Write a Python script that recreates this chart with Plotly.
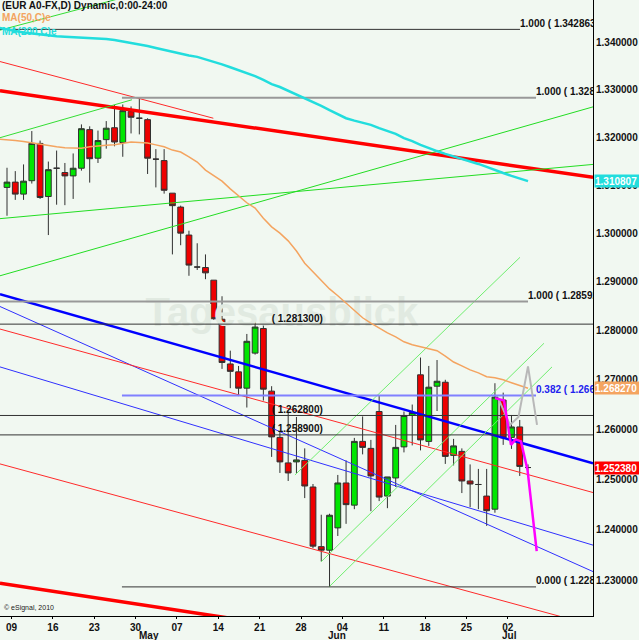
import math
import plotly.graph_objects as go

# ---------------- data ----------------
candle_idx = list(range(1, 65))
opens = [1.3095, 1.3106, 1.3081, 1.3109, 1.3187, 1.3076, 1.3135, 1.3126, 1.3119, 1.3135,
         1.3216, 1.3156, 1.3195, 1.3220, 1.3189, 1.3254, 1.3240, 1.3237, 1.3154, 1.3151,
         1.3083, 1.3054, 1.2996, 1.2930, 1.2929, 1.2903, 1.2823, 1.2732, 1.2716, 1.2683,
         1.2754, 1.2804, 1.2677, 1.2584, 1.2533, 1.2535, 1.2538, 1.2485, 1.2367, 1.2360,
         1.2404, 1.2493, 1.2449, 1.2576, 1.2562, 1.2636, 1.2467, 1.2503, 1.2565, 1.2628,
         1.2710, 1.2576, 1.2687, 1.2695, 1.2548, 1.2556, 1.2497, 1.2490, 1.2467, 1.2441,
         1.2659, 1.2584, 1.2605, 1.25238]
highs = [1.3136, 1.3129, 1.3143, 1.3213, 1.3193, 1.3149, 1.3172, 1.3146, 1.3166, 1.3227,
         1.3223, 1.3214, 1.3234, 1.3268, 1.3269, 1.3265, 1.3283, 1.3240, 1.3175, 1.3175,
         1.3083, 1.3057, 1.3005, 1.2979, 1.2956, 1.2903, 1.2870, 1.2759, 1.2728, 1.2793,
         1.2822, 1.2816, 1.2687, 1.2595, 1.2636, 1.2625, 1.2562, 1.2491, 1.2430, 1.2432,
         1.2509, 1.2538, 1.2583, 1.2626, 1.2579, 1.2669, 1.2505, 1.2609, 1.2636, 1.2650,
         1.2745, 1.2728, 1.2740, 1.2700, 1.2581, 1.2562, 1.2530, 1.2521, 1.2521, 1.2693,
         1.2674, 1.2629, 1.2619, 1.2530]
lows = [1.3036, 1.3069, 1.3069, 1.3103, 1.3071, 1.2996, 1.3059, 1.3058, 1.3071, 1.3130,
        1.3105, 1.3146, 1.3176, 1.3181, 1.3159, 1.3208, 1.3206, 1.3123, 1.3095, 1.3082,
        1.2956, 1.2975, 1.2912, 1.2924, 1.2905, 1.2822, 1.2722, 1.2683, 1.2667, 1.2644,
        1.2751, 1.2658, 1.2545, 1.2513, 1.2497, 1.2513, 1.2463, 1.2364, 1.2338, 1.2288,
        1.2388, 1.2412, 1.2441, 1.2550, 1.2437, 1.2457, 1.2443, 1.2485, 1.2554, 1.2568,
        1.2558, 1.2567, 1.2637, 1.2531, 1.2528, 1.2473, 1.2445, 1.2441, 1.2408, 1.2434,
        1.2569, 1.2561, 1.2507, 1.2518]
closes = [1.3106, 1.3081, 1.3108, 1.3187, 1.3074, 1.3132, 1.3135, 1.3119, 1.3135, 1.3218,
          1.3155, 1.3193, 1.3219, 1.3190, 1.3256, 1.3242, 1.3240, 1.3156, 1.3154, 1.3089,
          1.3057, 1.3000, 1.2934, 1.2930, 1.2918, 1.2824, 1.2735, 1.2717, 1.2683, 1.2778,
          1.2807, 1.2681, 1.2585, 1.2535, 1.2513, 1.2539, 1.2487, 1.2368, 1.2360, 1.2429,
          1.2493, 1.2450, 1.2576, 1.2564, 1.2507, 1.2465, 1.2505, 1.2564, 1.2628, 1.2634,
          1.2579, 1.2685, 1.2697, 1.2546, 1.2567, 1.2497, 1.2491, 1.2490, 1.2438, 1.2665,
          1.2583, 1.2605, 1.2526, 1.25238]

ma_idx = list(range(0, 65))
ma50 = [1.3196, 1.3195, 1.3193, 1.3191, 1.3188, 1.3186, 1.3183, 1.3180, 1.3178, 1.3177, 1.3177,
        1.3180, 1.3182, 1.3183, 1.3184, 1.3187, 1.3190, 1.3189, 1.3188, 1.3184, 1.3180,
        1.3173, 1.3169, 1.3159, 1.3148, 1.3131, 1.3119, 1.3108, 1.3092, 1.3077, 1.3063,
        1.3052, 1.3031, 1.3013, 1.3000, 1.2984, 1.2963, 1.2938, 1.2920, 1.2901, 1.2885,
        1.2871, 1.2856, 1.2842, 1.2826, 1.2815, 1.2805, 1.2795, 1.2787, 1.2777, 1.2771,
        1.2767, 1.2763, 1.2759, 1.2748, 1.2736, 1.2728, 1.2720, 1.2714, 1.2706, 1.2704,
        1.2700, 1.2694, 1.2688, 1.26827]
ma200 = [1.3432, 1.3428, 1.3425, 1.3422, 1.3420, 1.3417, 1.3415, 1.3414, 1.3413, 1.3412, 1.3411,
         1.3410, 1.3410, 1.3408, 1.3406, 1.3403, 1.3400, 1.3396, 1.3393, 1.3389, 1.3385,
         1.3380, 1.3376, 1.3373, 1.3370, 1.3365, 1.3360, 1.3354, 1.3348, 1.3342, 1.3336,
         1.3329, 1.3321, 1.3312, 1.3306, 1.3298, 1.3290, 1.3283, 1.3274, 1.3266, 1.3257,
         1.3249, 1.3240, 1.3235, 1.3230, 1.3226, 1.3219, 1.3213, 1.3207, 1.3198, 1.3192,
         1.3184, 1.3177, 1.3171, 1.3165, 1.3160, 1.3154, 1.3149, 1.3144, 1.3138, 1.3131,
         1.3125, 1.3119, 1.3114, 1.310807]

week_idx = [1, 6, 11, 16, 21, 26, 31, 36, 41, 46, 51, 56, 61]
week_labels = ["09", "16", "23", "30", "07", "14", "21", "28", "04", "11", "18", "25", "02"]
month_labels = ["May", "Jun", "Jul"]
month_pos = [18.2, 40.9, 61.75]

price_ticks = [1.23, 1.24, 1.25, 1.26, 1.27, 1.28, 1.29, 1.30, 1.31, 1.32, 1.33, 1.34]
price_tick_text = ["%.6f" % v for v in price_ticks]

# trend lines (start index, start price, end index, end price)
trend_x0 = [0.15, 0.15, 0.15, 0.15, 0.15, 0.15, 0.15, 0.15, 0.15, 0.15, 0.15, 0.15, 35.82, 38.97, 39.94]
trend_p0 = [1.3298, 1.3360, 1.3199, 1.3427, 1.3030, 1.2912, 1.2874, 1.2849, 1.2726, 1.2803, 1.2531, 1.2295, 1.2509, 1.2337, 1.2288]
trend_x1 = [71.86, 25.95, 16.11, 18.29, 71.86, 71.86, 71.86, 71.86, 71.86, 71.86, 71.86, 30.38, 63.03, 65.93, 66.90]
trend_p1 = [1.3116, 1.3240, 1.3279, 1.3512, 1.3143, 1.3264, 1.2532, 1.2318, 1.2370, 1.2474, 1.2213, 1.2221, 1.2950, 1.2774, 1.2726]
trend_style = [("#ff0000", 3.5), ("#ff2a2a", 1), ("#33dd33", 1), ("#33dd33", 1),
               ("#22dd22", 1), ("#22dd22", 1), ("#0000ff", 2.5), ("#3030ff", 1),
               ("#3030ff", 1), ("#ff2a2a", 1), ("#ff2a2a", 1), ("#ff0000", 3.5),
               ("#70ee70", 1), ("#70ee70", 1), ("#70ee70", 1)]

# fibonacci levels
fib_price = [1.342863, 1.3283, 1.28592, 1.2668, 1.2288]
fib_x0 = [0.0, 14.9, 0.0, 14.9, 14.9]
fib_x1 = [63.03, 64.97, 64.0, 64.97, 64.97]
fib_text = ["1.000 ( 1.342863)", "1.000 ( 1.328300)", "1.000 ( 1.285920)",
            "0.382 ( 1.266809)", "0.000 ( 1.228800)"]
fib_style = [("#333333", 1, "#111111"), ("#999999", 2, "#111111"), ("#999999", 2, "#111111"),
             ("#8080ff", 2, "#2222ee"), ("#333333", 1, "#111111")]

level_price = [1.2813, 1.2628, 1.2589]
level_text = ["( 1.281300)", "( 1.262800)", "( 1.258900)"]
level_text_x = 33.0

proj_mag_x = [60.01, 61.10, 61.94, 62.49, 63.15, 63.94, 65.05]
proj_mag_p = [1.2663, 1.2658, 1.2569, 1.2580, 1.2576, 1.2519, 1.2358]
proj_gray_x = [60.37, 61.82, 62.85, 64.00, 65.09]
proj_gray_p = [1.2664, 1.2609, 1.2625, 1.2727, 1.2609]

last_close = 1.252380
last_ma50 = 1.268270
last_ma200 = 1.310807

# ---------------- figure ----------------
BG = "#f1f8f1"
FONT = "Liberation Sans, Arial, sans-serif"
fig = go.Figure()

# watermark (behind everything)
fig.add_trace(go.Scatter(x=[34.25], y=[1.2829], mode="text", text=["Tagesausblick"],
                         textposition="middle center",
                         textfont=dict(family=FONT, size=40, color="#e1eae1", weight="bold"),
                         hoverinfo="skip", showlegend=False))

for x0, p0, x1, p1, (c, w) in zip(trend_x0, trend_p0, trend_x1, trend_p1, trend_style):
    fig.add_trace(go.Scatter(x=[x0, x1], y=[p0, p1], mode="lines",
                             line=dict(color=c, width=w), hoverinfo="skip", showlegend=False))

for p, x0, x1, (c, w, tc), t in zip(fib_price, fib_x0, fib_x1, fib_style, fib_text):
    fig.add_trace(go.Scatter(x=[x0, x1], y=[p, p], mode="lines",
                             line=dict(color=c, width=w), hoverinfo="skip", showlegend=False))
    fig.add_trace(go.Scatter(x=[x1], y=[p], mode="text", text=[t], textposition="top right",
                             textfont=dict(family=FONT, size=10, color=tc, weight="bold"),
                             cliponaxis=True, hoverinfo="skip", showlegend=False))

for p, t in zip(level_price, level_text):
    fig.add_trace(go.Scatter(x=[-5, 80], y=[p, p], mode="lines",
                             line=dict(color="#333333", width=1), hoverinfo="skip", showlegend=False))
    fig.add_trace(go.Scatter(x=[level_text_x], y=[p], mode="text", text=[t], textposition="top right",
                             textfont=dict(family=FONT, size=10, color="#111111", weight="bold"),
                             cliponaxis=True, hoverinfo="skip", showlegend=False))

fig.add_trace(go.Scatter(x=ma_idx, y=ma200, mode="lines", line=dict(color="#22dddd", width=2.5),
                         hoverinfo="skip", showlegend=False))
fig.add_trace(go.Scatter(x=ma_idx, y=ma50, mode="lines", line=dict(color="#f4a460", width=1.5),
                         hoverinfo="skip", showlegend=False))

fig.add_trace(go.Candlestick(
    x=candle_idx, open=opens, high=highs, low=lows, close=closes,
    increasing=dict(line=dict(color="#303030", width=1), fillcolor="#00e600"),
    decreasing=dict(line=dict(color="#303030", width=1), fillcolor="#ee0000"),
    whiskerwidth=0, showlegend=False, hoverinfo="skip"))

fig.add_trace(go.Scatter(x=proj_gray_x, y=proj_gray_p, mode="lines", line=dict(color="#b8b8b8", width=2),
                         hoverinfo="skip", showlegend=False))
fig.add_trace(go.Scatter(x=proj_mag_x, y=proj_mag_p, mode="lines", line=dict(color="#ff00ff", width=2.5),
                         hoverinfo="skip", showlegend=False))

ymin, ymax = 1.22312, 1.34916
fig.update_layout(
    width=639, height=640,
    margin=dict(l=0, r=46, t=0, b=24, autoexpand=False),
    paper_bgcolor=BG, plot_bgcolor=BG,
    boxgap=0.3, boxgroupgap=0,
    xaxis=dict(range=[0.1536, 71.858], showgrid=False, zeroline=False, automargin=False,
               showline=True, linecolor="#000000", linewidth=1,
               tickvals=[i + 0.55 for i in week_idx], ticktext=week_labels,
               ticks="outside", ticklen=2, tickcolor="#000000",
               tickfont=dict(family=FONT, size=10, color="#111111", weight="bold"),
               rangeslider=dict(visible=False)),
    yaxis=dict(type="log", range=[math.log10(ymin), math.log10(ymax)], side="right",
               showgrid=False, zeroline=False, showline=True, linecolor="#000000", linewidth=1,
               tickvals=price_ticks, ticktext=price_tick_text, ticks="", automargin=False,
               tickfont=dict(family=FONT, size=10, color="#111111", weight="bold")),
)

for m, xp in zip(month_labels, month_pos):
    fig.add_annotation(x=xp, xref="x", y=0, yref="paper", yshift=-19, yanchor="middle",
                       text=m, showarrow=False,
                       font=dict(family=FONT, size=10, color="#111111", weight="bold"))

for val, bg in [(last_ma200, "#22dddd"), (last_ma50, "#f4a460"), (last_close, "#ff0000")]:
    fig.add_annotation(x=1, xref="paper", y=math.log10(val), yref="y", xanchor="left",
                       xshift=1, yanchor="middle", text="%.6f" % val, showarrow=False,
                       bgcolor=bg, borderpad=0, width=45, height=12, align="left",
                       font=dict(family=FONT, size=10, color="#ffffff", weight="bold"))

fig.add_annotation(x=0, xref="paper", y=1 - 6 / 616, yref="paper", xanchor="left", yanchor="middle",
                   text="(EUR A0-FX,D) Dynamic,0:00-24:00", showarrow=False,
                   font=dict(family=FONT, size=10, color="#111111", weight="bold"))
fig.add_annotation(x=0, xref="paper", y=1 - 17 / 616, yref="paper", xanchor="left", yanchor="middle",
                   text="MA(50,C)e", showarrow=False,
                   font=dict(family=FONT, size=10, color="#f4a460", weight="bold"))
fig.add_annotation(x=0, xref="paper", y=1 - 31 / 616, yref="paper", xanchor="left", yanchor="middle",
                   text="MA(200,C)e", showarrow=False,
                   font=dict(family=FONT, size=10, color="#22dddd", weight="bold"))
fig.add_annotation(x=0.004, xref="paper", y=8 / 616, yref="paper", xanchor="left", yanchor="middle",
                   text="© eSignal, 2010", showarrow=False,
                   font=dict(family=FONT, size=7, color="#222222"))

fig.write_html("out.html", config={"displayModeBar": False},
               post_script="document.body.style.margin='0';")
